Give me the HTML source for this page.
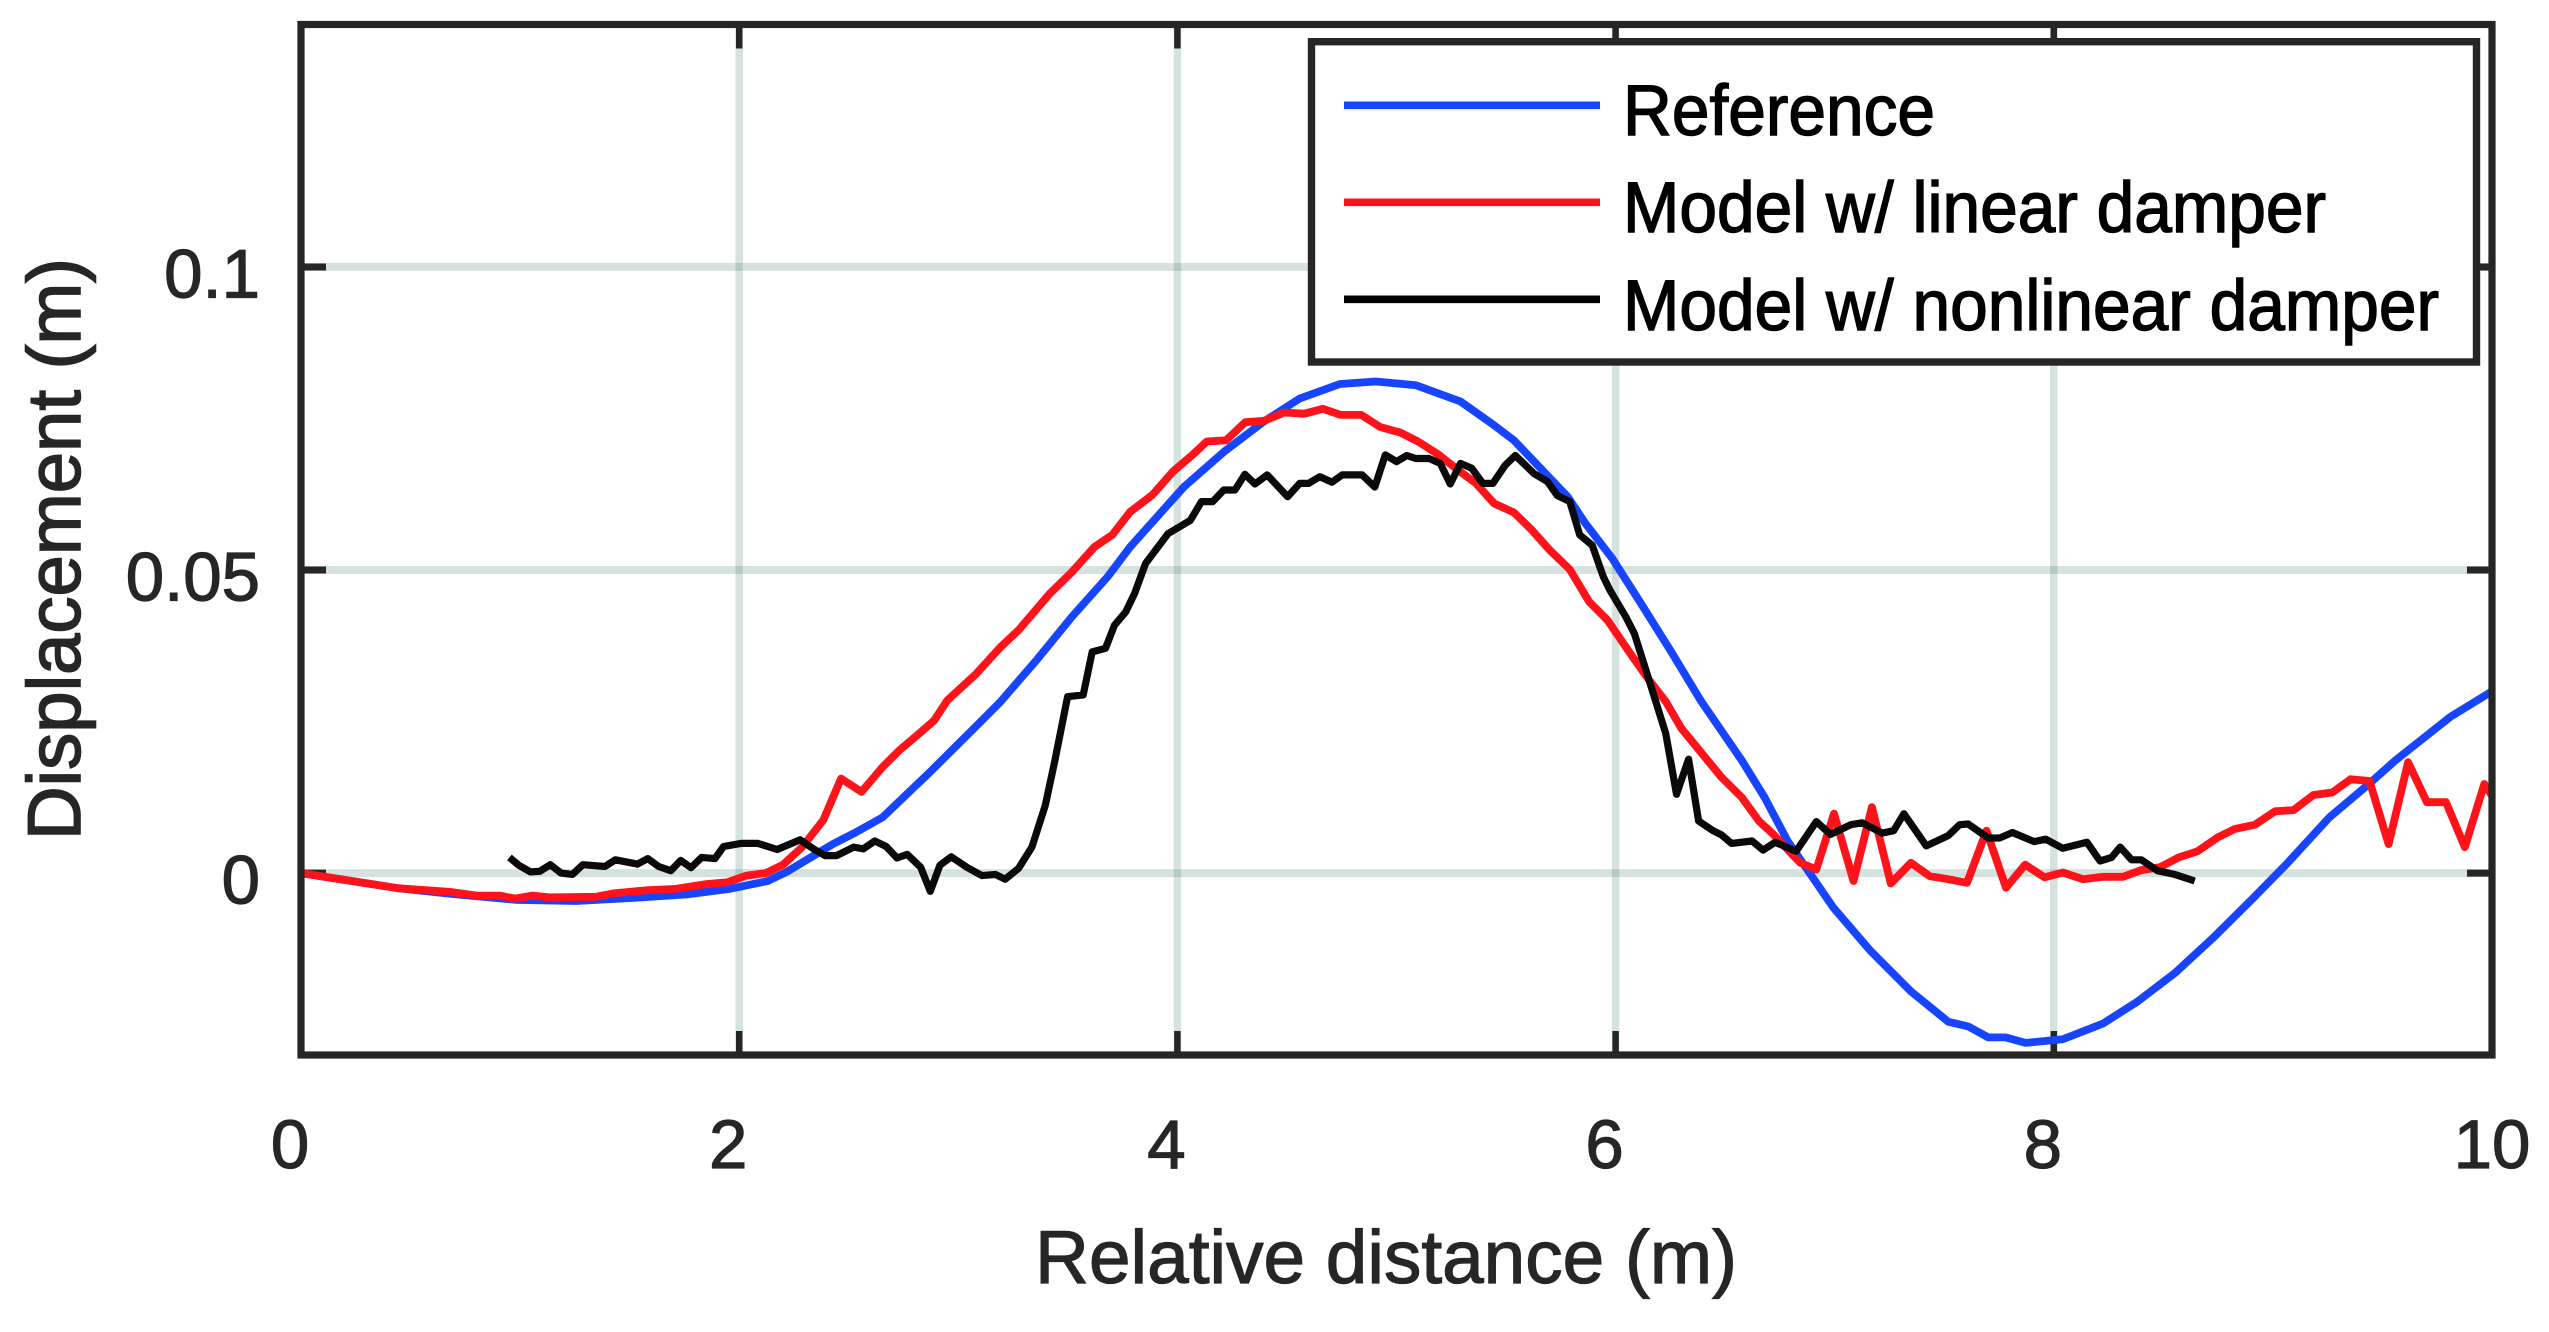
<!DOCTYPE html>
<html lang="en">
<head>
<meta charset="utf-8">
<title>Displacement vs relative distance</title>
<style>
  html, body { margin: 0; padding: 0; background: #fff; }
  svg { display: block; }
  text { font-family: "Liberation Sans", Arial, sans-serif; }
</style>
</head>
<body>
<svg id="chart" xmlns="http://www.w3.org/2000/svg" width="2549" height="1332" viewBox="0 0 2549 1332">
  <rect x="0" y="0" width="2549" height="1332" fill="#ffffff"/>
  <g id="grid"></g>
  <g id="ticks"></g>
  <g id="series"></g>
  <rect x="301" y="24.5" width="2191" height="1030.5" fill="none" stroke="#262626" stroke-width="7.2"/>
  <g id="tick-labels"></g>
  <text x="1035" y="1283" font-size="75" fill="#262626" stroke="#262626" stroke-width="1.2" textLength="702" lengthAdjust="spacingAndGlyphs">Relative distance (m)</text>
  <text transform="translate(80,840) rotate(-90)" x="0" y="0" font-size="75" fill="#262626" stroke="#262626" stroke-width="1.6" textLength="582" lengthAdjust="spacingAndGlyphs">Displacement (m)</text>
  <g>
    <rect x="1311.5" y="41.7" width="1165" height="320.3" fill="#ffffff" stroke="#262626" stroke-width="7.4"/>
    <line x1="1344" y1="105.3" x2="1600" y2="105.3" stroke="#1744ff" stroke-width="7.6"/>
    <text x="1623" y="135" font-size="71" fill="#000" stroke="#000" stroke-width="1.4" textLength="312" lengthAdjust="spacingAndGlyphs">Reference</text>
    <line x1="1344" y1="202.3" x2="1600" y2="202.3" stroke="#ff1219" stroke-width="7.6"/>
    <text x="1623" y="232" font-size="71" fill="#000" stroke="#000" stroke-width="1.4" textLength="703" lengthAdjust="spacingAndGlyphs">Model w/ linear damper</text>
    <line x1="1344" y1="299.3" x2="1600" y2="299.3" stroke="#000000" stroke-width="7.6"/>
    <text x="1623" y="330" font-size="71" fill="#000" stroke="#000" stroke-width="1.4" textLength="816" lengthAdjust="spacingAndGlyphs">Model w/ nonlinear damper</text>
  </g>
</svg>
<script>
const xTicks = [0, 2, 4, 6, 8, 10];
const yTicks = [0, 0.05, 0.1];
const xTickLabels = ["0", "2", "4", "6", "8", "10"];
const yTickLabels = ["0", "0.05", "0.1"];

const referenceX = [0, 0.445, 0.68, 0.89, 0.977, 1.256, 1.553, 1.763, 1.955, 2.13, 2.217, 2.427, 2.531, 2.654, 2.863, 3.108, 3.193, 3.356, 3.519, 3.682, 3.784, 4.029, 4.212, 4.395, 4.558, 4.742, 4.905, 5.088, 5.292, 5.434, 5.536, 5.781, 5.862, 5.985, 6.107, 6.249, 6.388, 6.576, 6.68, 6.785, 6.89, 6.994, 7.165, 7.348, 7.518, 7.61, 7.701, 7.78, 7.871, 8.041, 8.225, 8.381, 8.552, 8.735, 8.905, 9.062, 9.258, 9.428, 9.559, 9.81, 10];
const referenceY = [0, -0.0025, -0.0034, -0.0041, -0.0044, -0.0046, -0.004, -0.0035, -0.0026, -0.0013, 0.0002, 0.0048, 0.0067, 0.0092, 0.0164, 0.0252, 0.0283, 0.0351, 0.0423, 0.0489, 0.0538, 0.0637, 0.0695, 0.0745, 0.0783, 0.0807, 0.0811, 0.0805, 0.0778, 0.0742, 0.0714, 0.0621, 0.0577, 0.0519, 0.045, 0.0368, 0.0285, 0.0186, 0.0125, 0.0053, -0.0002, -0.0057, -0.0129, -0.0195, -0.0245, -0.0253, -0.0271, -0.0271, -0.028, -0.0274, -0.0248, -0.0212, -0.0165, -0.0104, -0.0043, 0.0015, 0.0092, 0.0144, 0.0186, 0.0258, 0.03];

const linearX = [0, 0.445, 0.68, 0.802, 0.907, 0.977, 1.056, 1.134, 1.344, 1.431, 1.588, 1.711, 1.85, 1.946, 2.034, 2.121, 2.2, 2.287, 2.383, 2.465, 2.558, 2.654, 2.732, 2.811, 2.89, 2.95, 3.08, 3.193, 3.275, 3.417, 3.519, 3.621, 3.703, 3.784, 3.886, 3.978, 4.069, 4.134, 4.222, 4.31, 4.395, 4.487, 4.579, 4.664, 4.746, 4.839, 4.925, 5.017, 5.098, 5.19, 5.292, 5.363, 5.445, 5.536, 5.618, 5.699, 5.791, 5.879, 5.964, 6.056, 6.148, 6.229, 6.3, 6.388, 6.484, 6.576, 6.654, 6.72, 6.811, 6.843, 6.916, 6.997, 7.086, 7.17, 7.256, 7.348, 7.434, 7.518, 7.604, 7.693, 7.782, 7.869, 7.958, 8.041, 8.133, 8.225, 8.316, 8.4, 8.486, 8.57, 8.656, 8.748, 8.827, 8.918, 9.01, 9.094, 9.185, 9.271, 9.355, 9.441, 9.528, 9.617, 9.703, 9.79, 9.876, 9.965, 10];
const linearY = [0, -0.0025, -0.0031, -0.0037, -0.0037, -0.0042, -0.0037, -0.004, -0.0039, -0.0033, -0.0028, -0.0026, -0.0018, -0.0015, -0.0004, 0, 0.0014, 0.0043, 0.0087, 0.0156, 0.0134, 0.0175, 0.0203, 0.0227, 0.0252, 0.0285, 0.0328, 0.0373, 0.0401, 0.0461, 0.0497, 0.0538, 0.0558, 0.0596, 0.0624, 0.0662, 0.069, 0.0712, 0.0714, 0.0744, 0.0746, 0.076, 0.0758, 0.0766, 0.0756, 0.0756, 0.0736, 0.0727, 0.0712, 0.0691, 0.0662, 0.0643, 0.061, 0.0595, 0.0566, 0.0533, 0.0501, 0.0448, 0.0417, 0.0368, 0.0321, 0.0283, 0.0239, 0.02, 0.0158, 0.0125, 0.0086, 0.0064, 0.0029, 0.0017, 0.0006, 0.0098, -0.0013, 0.0109, -0.0017, 0.0017, -0.0005, -0.001, -0.0016, 0.007, -0.0024, 0.0014, -0.0007, 0.0001, -0.001, -0.0006, -0.0006, 0.0005, 0.001, 0.0026, 0.0036, 0.0059, 0.0073, 0.008, 0.0102, 0.0104, 0.0129, 0.0133, 0.0155, 0.0152, 0.0048, 0.0183, 0.0117, 0.0117, 0.0043, 0.0147, 0.0128];

const nonlinearX = [0.951, 0.994, 1.047, 1.09, 1.138, 1.187, 1.239, 1.286, 1.387, 1.435, 1.536, 1.583, 1.632, 1.688, 1.733, 1.78, 1.829, 1.889, 1.929, 2.008, 2.086, 2.173, 2.278, 2.339, 2.392, 2.444, 2.523, 2.566, 2.619, 2.671, 2.72, 2.767, 2.828, 2.872, 2.916, 2.968, 3.038, 3.108, 3.169, 3.214, 3.275, 3.336, 3.397, 3.438, 3.499, 3.57, 3.611, 3.672, 3.713, 3.764, 3.804, 3.855, 3.957, 4.059, 4.11, 4.161, 4.212, 4.263, 4.308, 4.354, 4.41, 4.503, 4.558, 4.599, 4.65, 4.705, 4.752, 4.843, 4.901, 4.949, 5, 5.047, 5.088, 5.149, 5.2, 5.245, 5.292, 5.343, 5.394, 5.44, 5.496, 5.542, 5.628, 5.689, 5.734, 5.791, 5.836, 5.893, 5.944, 5.974, 6.046, 6.086, 6.148, 6.229, 6.278, 6.333, 6.379, 6.445, 6.484, 6.529, 6.623, 6.673, 6.728, 6.824, 6.916, 6.981, 7.073, 7.125, 7.217, 7.269, 7.316, 7.418, 7.518, 7.57, 7.609, 7.701, 7.753, 7.811, 7.91, 7.963, 8.041, 8.151, 8.211, 8.264, 8.303, 8.355, 8.4, 8.473, 8.552, 8.643];
const nonlinearY = [0.0026, 0.0013, 0.0002, 0.0003, 0.0014, 0, -0.0002, 0.0014, 0.0011, 0.0022, 0.0015, 0.0024, 0.0011, 0.0004, 0.0021, 0.0009, 0.0026, 0.0024, 0.0044, 0.0049, 0.0049, 0.0039, 0.0055, 0.004, 0.0029, 0.0029, 0.0043, 0.004, 0.0053, 0.0044, 0.0025, 0.0031, 0.001, -0.003, 0.0013, 0.0027, 0.001, -0.0004, -0.0002, -0.001, 0.0008, 0.0043, 0.0112, 0.0181, 0.0291, 0.0294, 0.0365, 0.0371, 0.0409, 0.0431, 0.0461, 0.0511, 0.056, 0.0582, 0.0613, 0.0613, 0.0632, 0.0632, 0.0658, 0.0642, 0.0657, 0.0621, 0.0643, 0.0643, 0.0654, 0.0645, 0.0657, 0.0657, 0.0637, 0.069, 0.0679, 0.0689, 0.0684, 0.0684, 0.0676, 0.0642, 0.0676, 0.0668, 0.0643, 0.0643, 0.0673, 0.0689, 0.0659, 0.0646, 0.0623, 0.0613, 0.0558, 0.0541, 0.0489, 0.0467, 0.0423, 0.0395, 0.0324, 0.023, 0.013, 0.0188, 0.0086, 0.007, 0.0063, 0.0049, 0.0053, 0.0038, 0.0051, 0.0036, 0.0085, 0.0064, 0.008, 0.0083, 0.0066, 0.007, 0.0098, 0.0045, 0.0062, 0.008, 0.0081, 0.0058, 0.0058, 0.0067, 0.0052, 0.0056, 0.0041, 0.0051, 0.002, 0.0026, 0.0043, 0.0022, 0.0022, 0.0004, -0.0002, -0.0013];

const NS = "http://www.w3.org/2000/svg";
const plotLeft = 301, plotRight = 2492, plotTop = 24.5, plotBottom = 1055;
const xMin = 0, xMax = 10, yMin = -0.03, yMax = 0.14;

function xScale(v) { return plotLeft + (v - xMin) / (xMax - xMin) * (plotRight - plotLeft); }
function yScale(v) { return plotBottom - (v - yMin) / (yMax - yMin) * (plotBottom - plotTop); }

function makeLine(parent, x1, y1, x2, y2, stroke, width, opacity) {
  const el = document.createElementNS(NS, "line");
  el.setAttribute("x1", x1);
  el.setAttribute("y1", y1);
  el.setAttribute("x2", x2);
  el.setAttribute("y2", y2);
  el.setAttribute("stroke", stroke);
  el.setAttribute("stroke-width", width);
  if (opacity !== undefined) el.setAttribute("stroke-opacity", opacity);
  parent.appendChild(el);
  return el;
}

function makeLabel(parent, x, y, anchor, content) {
  const el = document.createElementNS(NS, "text");
  el.setAttribute("x", x);
  el.setAttribute("y", y);
  el.setAttribute("text-anchor", anchor);
  el.setAttribute("font-size", "69");
  el.setAttribute("fill", "#262626");
  el.setAttribute("stroke", "#262626");
  el.setAttribute("stroke-width", "1.2");
  el.textContent = content;
  parent.appendChild(el);
  return el;
}

const gridGroup = document.getElementById("grid");
const tickGroup = document.getElementById("ticks");
const labelGroup = document.getElementById("tick-labels");
const seriesGroup = document.getElementById("series");

xTicks.forEach(function (t, i) {
  const px = xScale(t);
  if (t !== xMin && t !== xMax) {
    const g = makeLine(gridGroup, px, plotTop, px, plotBottom, "#32705e", 7.5, 0.2);
    
    
    const b = makeLine(tickGroup, px, plotBottom, px, plotBottom - 24, "#262626", 6.5);
    
    
    const u = makeLine(tickGroup, px, plotTop, px, plotTop + 24, "#262626", 6.5);
    
    
  }
  const offset = xTickLabels[i].length > 1 ? 0 : -11;
  const lab = makeLabel(labelGroup, px + offset, 1168, "middle", xTickLabels[i]);
  
  
});

yTicks.forEach(function (t, i) {
  const py = yScale(t);
  const g = makeLine(gridGroup, plotLeft, py, plotRight, py, "#32705e", 8, 0.2);
  
  
  const l = makeLine(tickGroup, plotLeft, py, plotLeft + 25, py, "#262626", 7);
  
  
  const r = makeLine(tickGroup, plotRight, py, plotRight - 25, py, "#262626", 7);
  
  
  const lab = makeLabel(labelGroup, 260, py + 30.5, "end", yTickLabels[i]);
  
  
});

function drawSeries(xs, ys, color, width) {
  const pts = xs.map(function (x, i) { return xScale(x).toFixed(1) + "," + yScale(ys[i]).toFixed(1); }).join(" ");
  const el = document.createElementNS(NS, "polyline");
  el.setAttribute("points", pts);
  el.setAttribute("fill", "none");
  el.setAttribute("stroke", color);
  el.setAttribute("stroke-width", width);
  el.setAttribute("stroke-linejoin", "round");
  seriesGroup.appendChild(el);
  return el;
}

const referenceLine = drawSeries(referenceX, referenceY, "#1744ff", 7.8);


const linearLine = drawSeries(linearX, linearY, "#ff1219", 7.8);


const nonlinearLine = drawSeries(nonlinearX, nonlinearY, "#0a0a0a", 7.2);


</script>
</body>
</html>
